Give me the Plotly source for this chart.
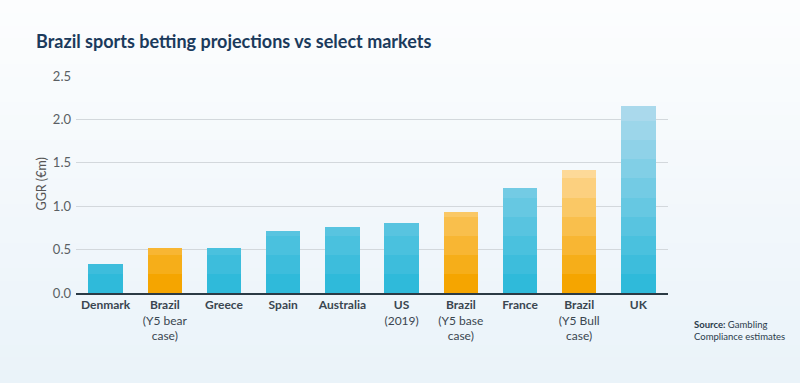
import plotly.graph_objects as go

# ---- data ----
categories = ["Denmark", "Brazil (Y5 bear case)", "Greece", "Spain", "Australia",
              "US (2019)", "Brazil (Y5 base case)", "France", "Brazil (Y5 Bull case)", "UK"]
tick_labels = ["<b>Denmark</b>", "<b>Brazil</b><br>(Y5 bear<br>case)", "<b>Greece</b>",
               "<b>Spain</b>", "<b>Australia</b>", "<b>US</b><br>(2019)",
               "<b>Brazil</b><br>(Y5 base<br>case)", "<b>France</b>",
               "<b>Brazil</b><br>(Y5 Bull<br>case)", "<b>UK</b>"]
ggr_values = [0.33, 0.52, 0.52, 0.72, 0.76, 0.81, 0.93, 1.21, 1.42, 2.16]
is_brazil = [False, True, False, False, False, False, True, False, True, False]

# ---- style ----
BAND = 0.22
N_BANDS = 10
FONT = "Lato"
blue_lo, blue_hi = (47, 186, 218), (170, 217, 236)
orange_lo, orange_hi = (245, 165, 0), (253, 217, 152)


def mix(a, b, t):
    return "rgb(%d,%d,%d)" % tuple(round(a[i] + (b[i] - a[i]) * t) for i in range(3))


fig = go.Figure()
for k in range(N_BANDS):
    seg = [max(0.0, min(BAND, v - k * BAND)) for v in ggr_values]
    colors = []
    for br in is_brazil:
        if br:
            colors.append(mix(orange_lo, orange_hi, min(k / 6, 1)))
        else:
            colors.append(mix(blue_lo, blue_hi, k / 9))
    fig.add_trace(go.Bar(x=categories, y=seg, marker=dict(color=colors, line=dict(width=0)),
                         showlegend=False, hoverinfo="skip"))

W, H = 800, 383
ml, mr, mt, mb = 76, 132, 76, 90
pw, ph = W - ml - mr, H - mt - mb

# background gradient
top_c, bot_c = (252, 253, 254), (234, 243, 249)
n = 30
for i in range(n):
    y0 = -mb / ph + (H / ph) * i / n
    y1 = -mb / ph + (H / ph) * (i + 1) / n
    fig.add_shape(type="rect", xref="paper", yref="paper",
                  x0=-ml / pw, x1=1 + mr / pw, y0=y0, y1=y1 + 0.01,
                  fillcolor=mix(bot_c, top_c, i / (n - 1)), line=dict(width=0), layer="below")

fig.update_layout(
    width=W, height=H,
    margin=dict(l=ml, r=mr, t=mt, b=mb),
    barmode="stack", bargap=0.42,
    paper_bgcolor="#f3f8fb", plot_bgcolor="rgba(0,0,0,0)",
    font=dict(family=FONT, size=12, color="#555"),
    title=dict(text="<b>Brazil sports betting projections vs select markets</b>",
               x=36 / W, xanchor="left", y=1 - 42 / H, yanchor="middle",
               font=dict(family=FONT, size=18, color="#1b3a5c")),
    xaxis=dict(tickmode="array", tickvals=categories, ticktext=tick_labels,
               tickfont=dict(family=FONT, size=12, color="#3a4650"),
               showline=True, linecolor="#2b3a44", linewidth=1.5, ticks="",
               showgrid=False),
    yaxis=dict(range=[0, 2.5], dtick=0.5, tickformat=".1f",
               tickfont=dict(family=FONT, size=13, color="#5a5f63"),
               showgrid=True, gridcolor="#d3d8dc", gridwidth=1,
               zeroline=False, ticks="", ticklen=0, ticklabelstandoff=4),
)
fig.add_annotation(text="GGR (€m)", textangle=-90, xref="paper", yref="paper",
                   x=-35 / pw, xanchor="center", y=0.5, showarrow=False,
                   font=dict(family=FONT, size=12.5, color="#555"))
fig.add_annotation(text="<b>Source:</b> Gambling<br>Compliance estimates",
                   xref="paper", yref="paper", x=1 + 24 / pw, xanchor="left",
                   y=-24 / ph, yanchor="top", align="left", showarrow=False,
                   font=dict(family=FONT, size=9.5, color="#2a3b4b"))

fig.write_html("out.html", config={"displayModeBar": False},
               post_script="document.body.style.margin='0';")
